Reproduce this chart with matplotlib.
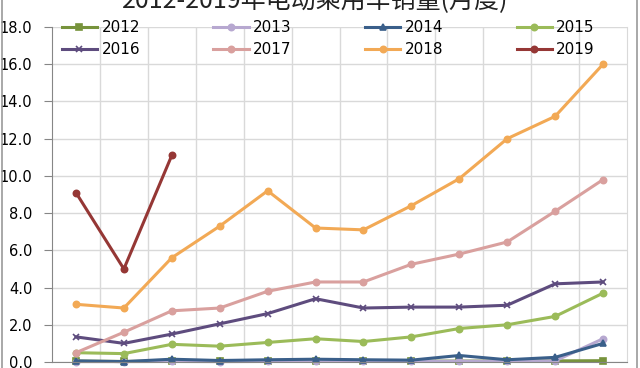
import numpy as np
import matplotlib.pyplot as plt
from matplotlib.patches import Rectangle

plt.rcParams['font.family'] = ['Noto Sans CJK SC', 'DejaVu Sans']

months = np.arange(1, 13)

s2012 = [0.05, 0.03, 0.05, 0.03, 0.05, 0.05, 0.04, 0.04, 0.05, 0.05, 0.06, 0.07]
s2013 = [0.02, 0.02, 0.03, 0.02, 0.03, 0.04, 0.03, 0.03, 0.04, 0.04, 0.06, 1.25]
s2014 = [0.06, 0.02, 0.15, 0.08, 0.12, 0.15, 0.12, 0.10, 0.35, 0.12, 0.25, 1.00]
s2015 = [0.50, 0.45, 0.95, 0.85, 1.05, 1.25, 1.10, 1.35, 1.80, 2.00, 2.45, 3.70]
s2016 = [1.35, 1.00, 1.50, 2.05, 2.60, 3.40, 2.90, 2.95, 2.95, 3.05, 4.20, 4.30]
s2017 = [0.50, 1.60, 2.75, 2.90, 3.80, 4.30, 4.30, 5.25, 5.80, 6.45, 8.10, 9.80]
s2018 = [3.10, 2.90, 5.60, 7.30, 9.20, 7.20, 7.10, 8.40, 9.85, 12.00, 13.20, 16.00]
s2019 = [9.10, 5.00, 11.10]

series = [
    ('2012', s2012, '#77933C', 's'),
    ('2013', s2013, '#B7A8D0', 'o'),
    ('2014', s2014, '#3A5F8A', '^'),
    ('2015', s2015, '#9BBB59', 'o'),
    ('2016', s2016, '#5E4C7E', 'x'),
    ('2017', s2017, '#D9A09E', 'o'),
    ('2018', s2018, '#F2A955', 'o'),
    ('2019', s2019, '#953735', 'o'),
]

fig = plt.figure(figsize=(6.4, 3.68), dpi=100)
ax = fig.add_axes([52 / 640, 1 - 362 / 368, 575 / 640, 335 / 368])

lines = {}
for name, vals, col, mk in series:
    ln, = ax.plot(months[:len(vals)], vals, color=col, lw=2.2, marker=mk,
                  markersize=4.5, markeredgewidth=1.2, label=name, clip_on=False)
    lines[name] = ln

ax.set_xlim(0.5, 12.5)
ax.set_ylim(0, 18)
ax.set_yticks(np.arange(0, 18.1, 2))
ax.set_yticklabels([f'{v:.1f}' for v in np.arange(0, 18.1, 2)], fontsize=10.5,
                   family='DejaVu Sans')
ax.set_xticks(np.arange(1.5, 12.5, 1), minor=True)
ax.set_xticks([])
ax.grid(True, axis='y', color='#d9d9d9', lw=1)
ax.grid(True, axis='x', which='minor', color='#d9d9d9', lw=1)
ax.tick_params(axis='y', length=6, color='#868686', pad=8)
ax.tick_params(axis='x', which='minor', length=0)
ax.spines['top'].set_visible(False)
ax.spines['right'].set_color('#d9d9d9')
ax.spines['left'].set_color('#868686')
ax.spines['bottom'].set_color('#868686')
ax.set_axisbelow(True)

# legend filled row by row like the original (matplotlib fills by column)
order = ['2012', '2016', '2013', '2017', '2014', '2018', '2015', '2019']
fig.legend([lines[k] for k in order], order, loc='center',
           bbox_to_anchor=(0.513, 1 - 38.5 / 368), ncol=4,
           frameon=False, handlelength=2.3, columnspacing=4.8,
           handletextpad=0.3, labelspacing=0.45,
           prop={'family': 'DejaVu Sans', 'size': 11})

fig.text(315 / 640, 1 - 1 / 368, '2012-2019年电动乘用车销量(月度)',
         ha='center', va='center', fontsize=18, color='#222222')

fig.patches.append(Rectangle((2 / 640, -0.01), 635 / 640, 1.02,
                             transform=fig.transFigure, fill=False,
                             edgecolor='#999999', lw=1.2))

fig.savefig('out.png', dpi=100)
